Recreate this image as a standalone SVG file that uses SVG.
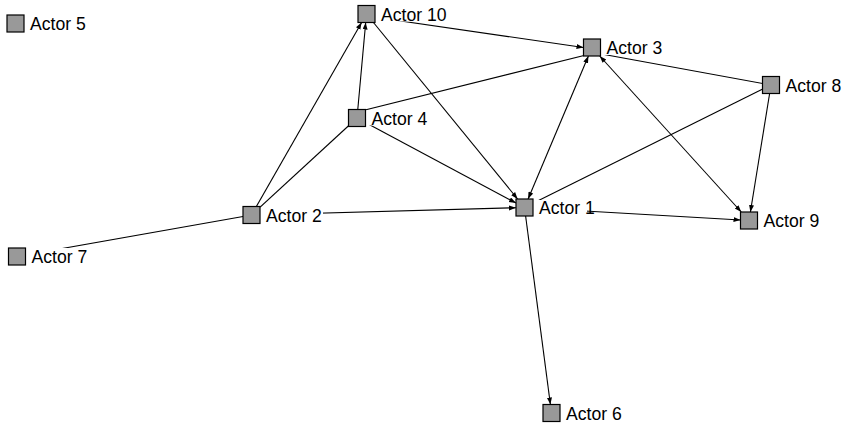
<svg xmlns="http://www.w3.org/2000/svg" width="843" height="425" viewBox="0 0 843 425">
<style>
.e{stroke:#000;stroke-width:1.1;fill:none}
.a{marker-end:url(#arr)}
.b{marker-start:url(#arrs)}
.n rect.s{fill:#999;stroke:#000;stroke-width:1.2}
.n rect.bg{fill:#fff;stroke:none}
.n text{font-family:"Liberation Sans",Arial,sans-serif;font-size:17.6px;fill:#000}
</style>
<defs>
<marker id="arr" markerUnits="userSpaceOnUse" markerWidth="8" markerHeight="6" refX="7" refY="2.5" orient="auto"><path d="M0,0 L7,2.5 L0,5 z" fill="#000"/></marker>
<marker id="arrs" markerUnits="userSpaceOnUse" markerWidth="8" markerHeight="6" refX="0" refY="2.5" orient="auto"><path d="M7,0 L0,2.5 L7,5 z" fill="#000"/></marker>
</defs>
<g id="edges">
<line class="e a" x1="366.5" y1="16" x2="583.5" y2="47.5"/>
<line class="e a" x1="366.5" y1="14" x2="517.6" y2="199"/>
<line class="e a" x1="357" y1="118" x2="365.7" y2="22.5"/>
<line class="e a" x1="251.5" y1="215" x2="361.6" y2="22.5"/>
<line class="e" x1="357" y1="112" x2="590" y2="54"/>
<line class="e a" x1="357" y1="118" x2="516" y2="203"/>
<line class="e" x1="251.5" y1="215" x2="357" y2="118"/>
<line class="e a" x1="251.5" y1="215" x2="516" y2="207.7"/>
<line class="e" x1="251.5" y1="215" x2="17" y2="256.5"/>
<line class="e a b" x1="528.1" y1="199" x2="588.4" y2="56"/>
<line class="e a b" x1="599.7" y1="56" x2="741.3" y2="212"/>
<line class="e" x1="596" y1="53" x2="771" y2="85"/>
<line class="e" x1="771" y1="85" x2="524.5" y2="207.5"/>
<line class="e a" x1="771" y1="85" x2="750.4" y2="212"/>
<line class="e a" x1="524.5" y1="207.5" x2="740.5" y2="220"/>
<line class="e a" x1="524.5" y1="207.5" x2="550.4" y2="404.5"/>
</g>
<g id="actor1" class="n"><rect class="bg" x="533" y="200" width="54" height="15"/><rect class="s" x="516" y="199" width="17" height="17"/><text x="539" y="214">Actor 1</text></g>
<g id="actor2" class="n"><rect class="bg" x="260" y="207.5" width="63" height="15"/><rect class="s" x="243" y="206.5" width="17" height="17"/><text x="266" y="221.5">Actor 2</text></g>
<g id="actor3" class="n"><rect class="bg" x="600.5" y="40" width="63" height="15"/><rect class="s" x="583.5" y="39" width="17" height="17"/><text x="606.5" y="54">Actor 3</text></g>
<g id="actor4" class="n"><rect class="bg" x="365.5" y="110.5" width="63" height="15"/><rect class="s" x="348.5" y="109.5" width="17" height="17"/><text x="371.5" y="124.5">Actor 4</text></g>
<g id="actor5" class="n"><rect class="bg" x="24" y="16" width="63" height="15"/><rect class="s" x="7" y="15" width="17" height="17"/><text x="30" y="30">Actor 5</text></g>
<g id="actor6" class="n"><rect class="bg" x="560" y="405.5" width="63" height="15"/><rect class="s" x="543" y="404.5" width="17" height="17"/><text x="566" y="419.5">Actor 6</text></g>
<g id="actor7" class="n"><rect class="bg" x="25.5" y="248" width="63" height="16"/><rect class="s" x="8.5" y="248" width="17" height="17"/><text x="31.5" y="263">Actor 7</text></g>
<g id="actor8" class="n"><rect class="bg" x="779.5" y="77.5" width="63" height="15"/><rect class="s" x="762.5" y="76.5" width="17" height="17"/><text x="785.5" y="91.5">Actor 8</text></g>
<g id="actor9" class="n"><rect class="bg" x="757.5" y="213" width="63" height="15"/><rect class="s" x="740.5" y="212" width="17" height="17"/><text x="763.5" y="227">Actor 9</text></g>
<g id="actor10" class="n"><rect class="bg" x="375" y="6.5" width="73" height="15"/><rect class="s" x="358" y="5.5" width="17" height="17"/><text x="381" y="20.5">Actor 10</text></g>
</svg>
